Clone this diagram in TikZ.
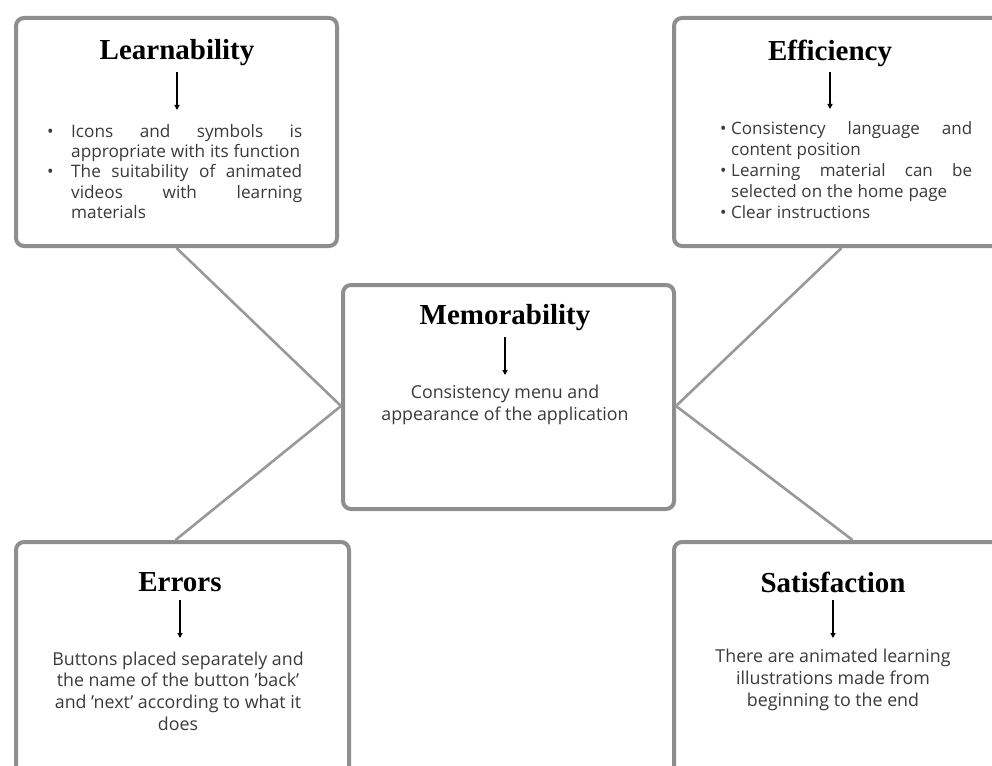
\documentclass[tikz,border=0pt]{standalone}
\usepackage{fontspec}
\setmainfont{Open Sans}
\newfontfamily\titlefont{Liberation Serif}
\usetikzlibrary{arrows.meta,calc}
\definecolor{boxgray}{HTML}{8E8E8E}
\definecolor{linegray}{HTML}{999999}
\definecolor{bodygray}{HTML}{3A3A3A}
\newcommand{\bitem}[2][17pt]{\noindent\spaceskip=0.28em plus 3em minus 0.05em\relax\hangindent=#1\hangafter=1\makebox[#1][l]{\textbullet}#2\par}
\begin{document}
\begin{tikzpicture}[x=1pt,y=-1pt,
  box/.style={draw=boxgray, line width=4pt, rounded corners=8pt, fill=white, inner sep=0pt},
  link/.style={draw=linegray, line width=2.6pt},
  ttl/.style={font=\titlefont\bfseries\fontsize{29}{32}\selectfont, text=black, inner sep=0pt},
  body/.style={font=\fontsize{17.8}{21.7}\selectfont, text=bodygray, inner sep=0pt, align=center},
  blist/.style={text=bodygray, inner sep=0pt, align=justify, anchor=north west},
  down/.style={-{Triangle[length=5pt,width=5pt]}, line width=1.3pt, black}
]
\useasboundingbox (0,0) rectangle (992,765);
\clip (0,0) rectangle (992,765);

% boxes
\node[box, minimum width=321pt, minimum height=228pt, anchor=north west] (L) at (14,16) {};
\node[box, minimum width=335pt, minimum height=228pt, anchor=north west] (E) at (672,16) {};
\node[box, minimum width=331pt, minimum height=224pt, anchor=north west] (M) at (341,283) {};
\node[box, minimum width=333pt, minimum height=260pt, anchor=north west] (R) at (14,540) {};
\node[box, minimum width=335pt, minimum height=260pt, anchor=north west] (S) at (672,540) {};

% connectors
\coordinate (Mw) at ($(M.west)+(0,9)$);
\coordinate (Me) at ($(M.east)+(0,9)$);
\draw[link] (L.south) -- (Mw);
\draw[link] ($(R.north)+(-7,0)$) -- (Mw);
\draw[link] (E.south) -- (Me);
\draw[link] ($(S.north)+(11,0)$) -- (Me);

% Learnability
\node[ttl] (Lt) at (177,53) {Learnability};
\node[blist, text width=255pt, font=\fontsize{17.2}{20.3}\selectfont] (Lb) at (47,124) {%
\bitem[24pt]{Icons and symbols is\linebreak appropriate with its function}%
\bitem[24pt]{The suitability of animated\linebreak videos with learning\linebreak materials}};
\draw[down] ($(Lt.center)+(0,19)$) -- ($(Lt.center)+(0,57)$);

% Efficiency
\node[ttl] (Et) at (830,53) {Efficiency};
\node[blist, text width=252pt, font=\fontsize{17}{21.2}\selectfont] (Eb) at (720,121) {%
\bitem[11pt]{Consistency language and\linebreak content position}%
\bitem[11pt]{Learning material can be\linebreak selected on the home page}%
\bitem[11pt]{Clear instructions}};
\draw[down] ($(Et.center)+(0,19)$) -- ($(Et.center)+(0,56)$);

% Memorability
\node[ttl] (Mt) at (505,318) {Memorability};
\node[body] (Mb) at (505,405) {Consistency menu and\\appearance of the application};
\draw[down] ($(Mt.center)+(0,19)$) -- ($(Mt.center)+(0,57)$);

% Errors
\node[ttl] (Rt) at (180,582) {Errors};
\node[body] (Rb) at (178,691) {Buttons placed separately and\\the name of the button 'back'\\and 'next' according to what it\\does};
\draw[down] ($(Rt.center)+(0,18)$) -- ($(Rt.center)+(0,56)$);

% Satisfaction
\node[ttl] (St) at (833,582) {Satisfaction};
\node[body] (Sb) at (833,680) {There are animated learning\\illustrations made from\\beginning to the end};
\draw[down] ($(St.center)+(0,18)$) -- ($(St.center)+(0,56)$);
\end{tikzpicture}
\end{document}
